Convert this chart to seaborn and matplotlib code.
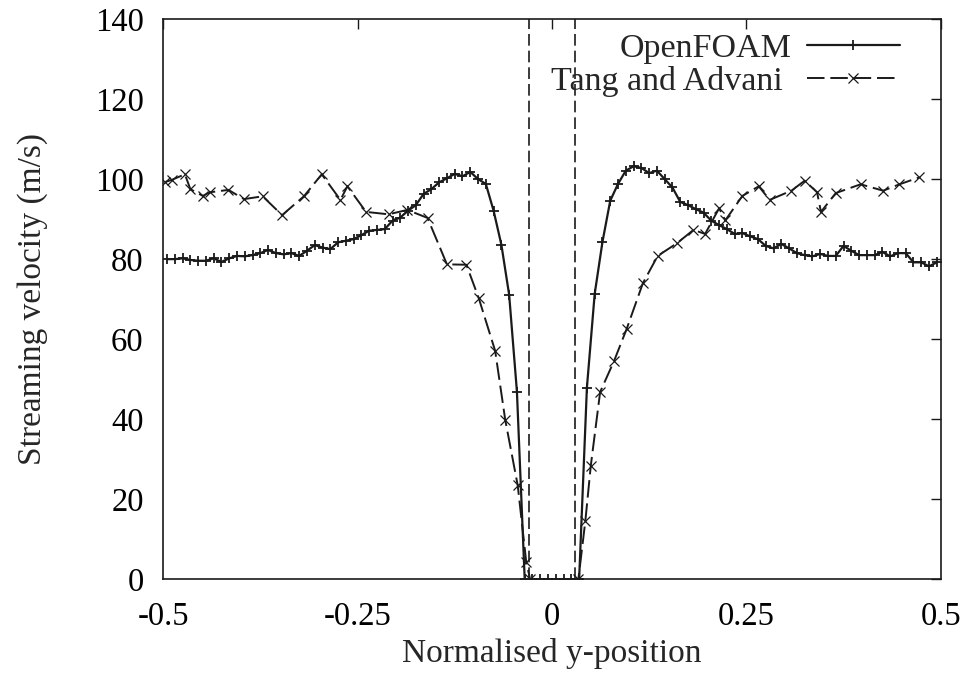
#!/usr/bin/env python3

import numpy as np
import pandas as pd
import seaborn as sns
import matplotlib
matplotlib.use("Agg")
import matplotlib.pyplot as plt

# OpenFOAM profile, sampled every 0.01 from -0.495 to 0.495
foam_x = np.round(np.arange(-0.495, 0.4951, 0.01), 3)
foam_v = [
    80.0, 80.0, 80.2, 79.8, 79.6, 79.6, 80.2, 79.3, 80.2, 80.8,
    80.7, 81.0, 81.5, 82.3, 81.5, 81.2, 81.5, 80.8, 82.1, 83.5,
    82.9, 82.5, 84.2, 84.6, 85.0, 86.0, 87.1, 87.3, 87.5, 89.6,
    90.4, 92.1, 93.5, 96.3, 97.5, 99.2, 100.2, 101.3, 100.7, 101.8,
    100.0, 98.8, 92.1, 83.6, 71.1, 46.9, 0.0, 0.0, 0.0, 0.0,
    0.0, 0.0, 0.0, 0.0, 47.9, 71.3, 84.3, 94.6, 98.8, 102.1,
    103.2, 102.8, 101.5, 102.1, 100.0, 97.9, 94.3, 93.5, 92.5, 91.6,
    89.6, 88.5, 87.5, 86.3, 86.5, 85.7, 85.0, 83.3, 82.7, 83.8,
    82.7, 81.5, 81.0, 80.7, 81.3, 80.8, 80.8, 83.3, 82.1, 81.0,
    81.0, 81.0, 81.8, 80.7, 81.5, 81.5, 79.2, 79.2, 78.2, 79.2,
]

# Tang and Advani reference data
tang_x = [
    -0.497, -0.489, -0.472, -0.465, -0.449, -0.440, -0.416, -0.396, -0.372, -0.347,
    -0.319, -0.296, -0.272, -0.263, -0.239, -0.210, -0.186, -0.160, -0.135, -0.110,
    -0.094, -0.073, -0.060, -0.044, -0.033, -0.028, 0.034, 0.043, 0.050, 0.062,
    0.080, 0.096, 0.117, 0.136, 0.161, 0.182, 0.197, 0.215, 0.223, 0.245,
    0.266, 0.280, 0.308, 0.325, 0.341, 0.346, 0.365, 0.397, 0.426, 0.447,
    0.472,
]
tang_v = [
    99.3, 99.8, 101.2, 97.5, 95.8, 96.7, 97.3, 95.0, 95.7, 91.0,
    95.7, 101.2, 94.8, 98.2, 91.8, 91.2, 92.3, 90.3, 78.7, 78.6,
    70.2, 57.1, 39.8, 23.5, 4.3, 0.0, 0.0, 14.6, 28.4, 46.8,
    54.6, 62.5, 74.0, 80.8, 84.0, 87.3, 86.3, 92.7, 89.7, 95.8,
    98.2, 94.8, 97.1, 99.6, 96.7, 91.8, 96.5, 98.7, 97.1, 98.7,
    100.4,
]

# nozzle walls
wall_x = [-0.029, 0.030]

x_ticks = [-0.5, -0.25, 0, 0.25, 0.5]
x_ticklabels = ["-0.5", "-0.25", "0", "0.25", "0.5"]
y_ticks = [0, 20, 40, 60, 80, 100, 120, 140]

INK = "#1a1a1a"


def main():
    foam = pd.DataFrame({"y": foam_x, "v": foam_v})
    tang = pd.DataFrame({"y": tang_x, "v": tang_v})

    sns.set_style("white")
    plt.rcParams["font.family"] = ["Liberation Serif", "DejaVu Serif"]
    plt.rcParams["font.size"] = 23

    fig = plt.figure(figsize=(9.71, 6.86), dpi=100)
    ax = fig.add_axes([0.168, 0.1555, 0.8008, 0.8168])

    sns.lineplot(data=foam, x="y", y="v", ax=ax, color=INK,
                 marker="+", markersize=7, markeredgewidth=1.3,
                 markeredgecolor=INK, linewidth=1.6)
    sns.lineplot(data=tang, x="y", y="v", ax=ax, color=INK,
                 marker="x", markersize=7, markeredgewidth=0.9,
                 markeredgecolor=INK, linewidth=1.4,
                 linestyle=(0, (9, 3)))

    for w in wall_x:
        ax.axvline(w, color=INK, linewidth=1.2, linestyle=(0, (7, 3)))

    ax.set_xlim(-0.5, 0.5)
    ax.set_ylim(0, 140)
    ax.set_xticks(x_ticks)
    ax.set_xticklabels(x_ticklabels)
    ax.set_yticks(y_ticks)
    ax.tick_params(direction="in", length=7, width=1.0, top=True, right=True,
                   labelsize=23.5, color=INK, labelcolor="black")
    ax.tick_params(axis="x", pad=16)
    ax.tick_params(axis="y", pad=14)
    for s in ax.spines.values():
        s.set_linewidth(1.2)
        s.set_color(INK)

    ax.set_xlabel("Normalised y-position", fontsize=24, labelpad=4)
    ax.set_ylabel("Streaming velocity (m/s)", fontsize=24, labelpad=34)

    # gnuplot-style key: text right-aligned, sample to the right
    lines = ax.get_lines()
    keys = [(lines[0], "OpenFOAM", 0.948, 0.45),
            (lines[1], "Tang and Advani", 0.889, 0.7)]
    legs = []
    for handle, label, yy, gap in keys:
        leg = ax.legend([handle], [label], loc="center right",
                        bbox_to_anchor=(0.948, yy), frameon=False,
                        markerfirst=False, handlelength=2.75,
                        handletextpad=gap, borderpad=0, borderaxespad=0,
                        fontsize=24.5)
        legs.append(leg)
    for leg in legs[:-1]:
        ax.add_artist(leg)

    fig.savefig("out.png", dpi=100)


if __name__ == "__main__":
    main()
